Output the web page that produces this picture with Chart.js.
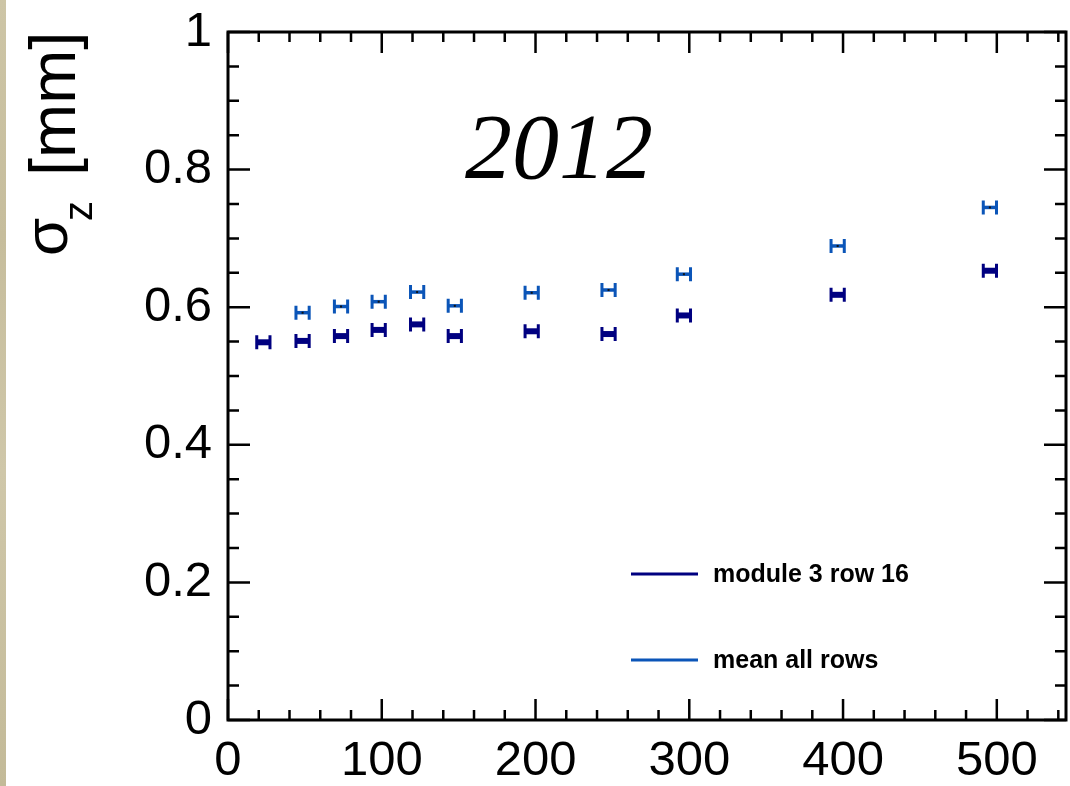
<!DOCTYPE html>
<html>
<head>
<meta charset="utf-8">
<script src="https://cdn.jsdelivr.net/npm/chart.js@4.4.1/dist/chart.umd.min.js"></script>
<style>
html, body { margin: 0; padding: 0; background: #fff; }
#wrap { position: relative; width: 1070px; height: 786px; overflow: hidden; }
#myChart { position: absolute; left: 0; top: 0; }
#strip {
    position: absolute; left: 0; top: 0; width: 6px; height: 786px;
    background: linear-gradient(180deg, #cdc5a6 0%, #c6bd9c 30%, #cfc7a9 60%, #c3ba98 100%);
}
</style>
</head>
<body>
<div id="wrap">
    <canvas id="myChart" width="1070" height="786"></canvas>
    <div id="strip"></div>
</div>
<script>
// distance values (x) and sigma_z values
var distance = [23, 48.5, 73.5, 98, 123, 147.5, 197.5, 247.5, 296.5, 396.5, 495.5]
var distanceErr = [4.3, 4.3, 4.3, 4.3, 4.3, 4.3, 4.3, 4.3, 4.3, 4.3, 4.3]
var sigmaRow16 = [0.549, 0.551, 0.558, 0.567, 0.575, 0.558, 0.565, 0.561, 0.588, 0.618, 0.653]
var sigmaMean = [null, 0.592, 0.601, 0.608, 0.622, 0.602, 0.621, 0.625, 0.648, 0.689, 0.745]

var seriesNames = ["module 3 row 16", "mean all rows"]
var seriesColors = ["#000080", "#0b55b8"]

var xMin = 0, xMax = 545, xStep = 100, xMinorStep = 20
var yMin = 0, yMax = 1, yStep = 0.2, yMinorStep = 0.05

function makePoints(ys) {
    var pts = []
    for (let i = 0; i < distance.length; i++) {
        if (ys[i] === null) continue
        pts.push({ x: distance[i], y: ys[i], xErr: distanceErr[i] })
    }
    return pts
}

// horizontal error bars with end caps, ROOT style
var errorBars = {
    id: "errorBars",
    afterDatasetsDraw: function (chart) {
        var ctx = chart.ctx
        var xs = chart.scales.x
        var ys = chart.scales.y
        chart.data.datasets.forEach(function (ds) {
            ctx.save()
            ctx.strokeStyle = ds.borderColor
            ds.data.forEach(function (p) {
                var x0 = xs.getPixelForValue(p.x - p.xErr)
                var x1 = xs.getPixelForValue(p.x + p.xErr)
                var y = ys.getPixelForValue(p.y)
                ctx.lineWidth = ds.barThickness
                ctx.beginPath()
                ctx.moveTo(x0, y)
                ctx.lineTo(x1, y)
                ctx.stroke()
                ctx.lineWidth = 3
                ctx.beginPath()
                ctx.moveTo(x0, y - 7)
                ctx.lineTo(x0, y + 7)
                ctx.moveTo(x1, y - 7)
                ctx.lineTo(x1, y + 7)
                ctx.stroke()
                if (ds.centerDot) {
                    ctx.fillStyle = "#111"
                    ctx.fillRect(xs.getPixelForValue(p.x) - 1, y - 1, 2, 2)
                }
            })
            ctx.restore()
        })
    }
}

// frame with inward ticks on all four sides
var frame = {
    id: "frame",
    afterDraw: function (chart) {
        var ctx = chart.ctx
        var a = chart.chartArea
        var xs = chart.scales.x
        var ys = chart.scales.y
        ctx.save()
        ctx.strokeStyle = "#000"
        ctx.lineWidth = 2.5
        for (let v = xMin; v <= xMax + 0.001; v += xMinorStep) {
            var px = xs.getPixelForValue(v)
            var len = (Math.round(v) % xStep === 0) ? 21 : 10
            ctx.beginPath()
            ctx.moveTo(px, a.bottom)
            ctx.lineTo(px, a.bottom - len)
            ctx.moveTo(px, a.top)
            ctx.lineTo(px, a.top + len)
            ctx.stroke()
        }
        for (let k = 0; k * yMinorStep <= yMax + 0.0001; k++) {
            var v2 = k * yMinorStep
            var py = ys.getPixelForValue(v2)
            var len2 = (k % 4 === 0) ? 22 : 11
            ctx.beginPath()
            ctx.moveTo(a.left, py)
            ctx.lineTo(a.left + len2, py)
            ctx.moveTo(a.right, py)
            ctx.lineTo(a.right - len2, py)
            ctx.stroke()
        }
        ctx.lineWidth = 3
        ctx.strokeRect(a.left, a.top, a.right - a.left, a.bottom - a.top)

        // legend
        chart.data.datasets.forEach(function (ds, i) {
            var ly = 574 + i * 86
            ctx.strokeStyle = ds.borderColor
            ctx.lineWidth = 3
            ctx.beginPath()
            ctx.moveTo(631, ly)
            ctx.lineTo(698, ly)
            ctx.stroke()
            ctx.fillStyle = "#000"
            ctx.font = "bold 25px 'Liberation Sans', Arial, sans-serif"
            ctx.textBaseline = "middle"
            ctx.textAlign = "left"
            ctx.fillText(ds.label, 713, ly + 1)
        })

        // year label
        ctx.fillStyle = "#000"
        ctx.font = "italic 94px 'Liberation Serif', 'Times New Roman', serif"
        ctx.textAlign = "center"
        ctx.textBaseline = "alphabetic"
        ctx.fillText("2012", 559, 178)

        // y axis title: sigma_z [mm]
        ctx.save()
        ctx.translate(75, 256)
        ctx.rotate(-Math.PI / 2)
        ctx.textAlign = "left"
        ctx.textBaseline = "alphabetic"
        ctx.font = "62px 'Liberation Sans', Arial, sans-serif"
        ctx.fillText("σ", 0, -8)
        ctx.font = "40px 'Liberation Sans', Arial, sans-serif"
        ctx.fillText("z", 35, 17)
        ctx.font = "65px 'Liberation Sans', Arial, sans-serif"
        ctx.fillText("[mm]", 80, 0)
        ctx.restore()
        ctx.restore()
    }
}

var ctx = document.getElementById("myChart")
var myChart = new Chart(ctx, {
    type: "scatter",
    data: {
        datasets: [
            {
                label: seriesNames[0],
                data: makePoints(sigmaRow16),
                borderColor: seriesColors[0],
                backgroundColor: seriesColors[0],
                pointRadius: 0,
                barThickness: 6,
                centerDot: false
            },
            {
                label: seriesNames[1],
                data: makePoints(sigmaMean),
                borderColor: seriesColors[1],
                backgroundColor: seriesColors[1],
                pointRadius: 0,
                barThickness: 3.5,
                centerDot: true
            }
        ]
    },
    options: {
        responsive: false,
        animation: false,
        devicePixelRatio: 1,
        layout: { padding: { top: 32, right: 4, left: 0, bottom: 0 } },
        plugins: {
            legend: { display: false },
            tooltip: { enabled: false }
        },
        scales: {
            x: {
                type: "linear",
                min: xMin,
                max: xMax,
                grid: { display: false, drawTicks: false },
                border: { display: false },
                ticks: {
                    stepSize: xStep,
                    includeBounds: false,
                    padding: 12,
                    color: "#000",
                    maxRotation: 0,
                    font: { family: "'Liberation Sans', Arial, sans-serif", size: 49 }
                },
                afterFit: function (s) {
                    s.height = 66
                    s.paddingLeft = 0
                    s.paddingRight = 0
                }
            },
            y: {
                type: "linear",
                min: yMin,
                max: yMax,
                grid: { display: false, drawTicks: false },
                border: { display: false },
                ticks: {
                    stepSize: yStep,
                    padding: 16,
                    color: "#000",
                    font: { family: "'Liberation Sans', Arial, sans-serif", size: 49 },
                    callback: function (value) {
                        return String(Number(value.toFixed(2)))
                    }
                },
                afterFit: function (s) {
                    s.width = 228
                    s.paddingTop = 0
                    s.paddingBottom = 0
                }
            }
        }
    },
    plugins: [errorBars, frame]
})
</script>
</body>
</html>
